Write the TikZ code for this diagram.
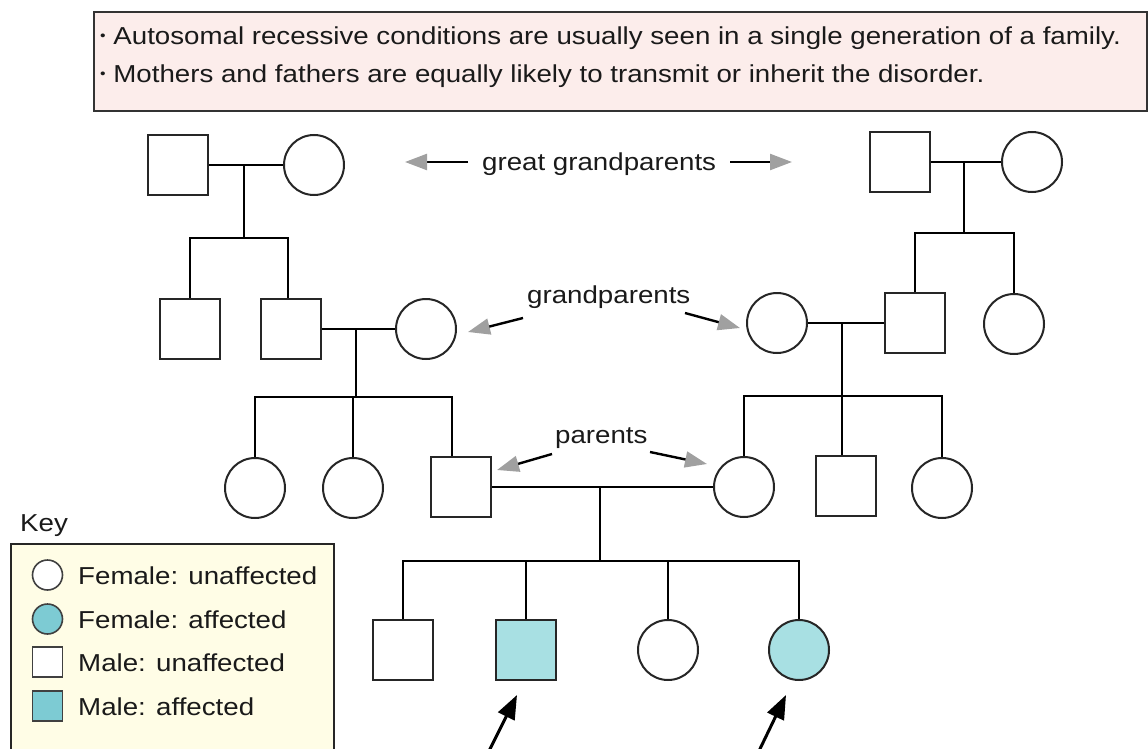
\documentclass[tikz,border=0pt]{standalone}
\usepackage{fontspec}
\setmainfont{Liberation Sans}[FakeStretch=1.13]
\usetikzlibrary{arrows.meta}
\definecolor{affc}{HTML}{A8E0E3}
\definecolor{keyaff}{HTML}{7DCBD3}
\definecolor{bannerfill}{HTML}{FCEDEB}
\definecolor{keyfill}{HTML}{FFFDE6}
\definecolor{txt}{HTML}{1A1A1A}
\definecolor{headgray}{HTML}{A0A0A0}
\newcommand{\smallbul}{\raisebox{4.5pt}{\fontsize{14}{14}\selectfont\textbullet}}
\begin{document}
\begin{tikzpicture}[x=1pt,y=-1pt,
  male/.style={draw=black!85, line width=2pt, rectangle, minimum size=60pt, inner sep=0pt, fill=white},
  female/.style={draw=black!85, line width=2pt, circle, minimum size=60pt, inner sep=0pt, fill=white},
  aff/.style={fill=affc},
  keysym/.style={minimum size=30pt, line width=1.6pt, draw=black!75},
  rel/.style={line width=2.6pt, black},
  lbl/.style={font=\fontsize{24.5}{29}\selectfont, text=txt, inner sep=0pt, anchor=base west},
  garrow/.style={line width=2.4pt, -{Triangle[length=22pt,width=16pt,color=headgray]}},
  barrow/.style={line width=3pt, -{Triangle[length=24pt,width=18pt]}}
]
\useasboundingbox (0,0) rectangle (1148,749);

% banner
\node[draw=black!80, line width=2.4pt, fill=bannerfill, anchor=north west, inner sep=0pt,
      minimum width=1053pt, minimum height=99pt] (banner) at (93,11) {};
\node[lbl] (t1) at (100,45) {\smallbul\ Autosomal recessive conditions are usually seen in a single generation of a family.};
\node[lbl] (t2) at (100,83) {\smallbul\ Mothers and fathers are equally likely to transmit or inherit the disorder.};

% great grandparents, left
\node[male] (m1) at (178,165) {};
\node[female] (f1) at (314,165) {};
\draw[rel] (m1) -- (f1);
\coordinate (c1) at (244,165);
\coordinate (s1) at (244,238);
\draw[rel] (c1) -- (s1);

% grandparents row, left
\node[male] (m2) at (190,329) {};
\node[male] (m3) at (291,329) {};
\node[female] (f2) at (426,329) {};
\draw[rel] (m2.north) |- (s1) -| ([xshift=-3pt]m3.north);
\draw[rel] (m3) -- (f2);
\coordinate (c2) at (356,329);
\coordinate (s2) at (356,397);
\draw[rel] (c2) -- (s2);

% parents row, left
\node[female] (f3) at (255,488) {};
\node[female] (f4) at (353,488) {};
\node[male] (m4) at (461,487) {};
\draw[rel] (f3.north) |- ([xshift=-9pt]m4.north |- s2) -- ([xshift=-9pt]m4.north);
\draw[rel] (f4.north) -- (f4.north |- s2);

% great grandparents, right
\node[male] (m5) at (900,162) {};
\node[female] (f5) at (1032,162) {};
\draw[rel] (m5) -- (f5);
\coordinate (c4) at (964,162);
\coordinate (s4) at (964,233);
\draw[rel] (c4) -- (s4);

% grandparents row, right
\node[male] (m6) at (915,323) {};
\node[female] (f7) at (1014,324) {};
\node[female] (f8) at (777,323) {};
\draw[rel] (m6.north) |- (s4) -| (f7.north);
\draw[rel] (f8) -- (m6);
\coordinate (c5) at (842,323);
\coordinate (s5) at (842,396);
\draw[rel] (c5) -- (s5);

% parents row, right
\node[female] (f6) at (744,487) {};
\node[male] (m7) at (846,486) {};
\node[female] (f9) at (942,488) {};
\draw[rel] (f6.north) |- (s5) -| (f9.north);
\draw[rel] (s5) -- (s5 |- m7.north);

% parents couple and children
\draw[rel] (m4) -- (f6);
\coordinate (c3) at (600,487);
\coordinate (s3) at (600,561);
\draw[rel] (c3) -- (s3);
\node[male] (ch1) at (403,650) {};
\node[male, aff] (ch2) at (526,650) {};
\node[female] (ch3) at (668,650) {};
\node[female, aff] (ch4) at (799,650) {};
\draw[rel] (ch1.north) |- (s3) -| (ch4.north);
\draw[rel] (ch2.north) -- (ch2.north |- s3);
\draw[rel] (ch3.north) -- (ch3.north |- s3);

% labels and grey arrows
\node[lbl] (ggp) at (482,170) {great grandparents};
\node[lbl] (gp) at (527,303) {grandparents};
\node[lbl] (par) at (555,443) {parents};
\coordinate (a1s) at (468,162); \coordinate (a1e) at (405,162);
\coordinate (a2s) at (730,162); \coordinate (a2e) at (792,162);
\coordinate (a3s) at (523,318); \coordinate (a3e) at (468,332);
\coordinate (a4s) at (685,313); \coordinate (a4e) at (740,328);
\coordinate (a5s) at (552,454); \coordinate (a5e) at (497,470);
\coordinate (a6s) at (650,452); \coordinate (a6e) at (707,464);
\draw[garrow] (a1s) -- (a1e);
\draw[garrow] (a2s) -- (a2e);
\draw[garrow] (a3s) -- (a3e);
\draw[garrow] (a4s) -- (a4e);
\draw[garrow] (a5s) -- (a5e);
\draw[garrow] (a6s) -- (a6e);

% black arrows at bottom
\coordinate (b1s) at (488,753); \coordinate (b1e) at (517,695);
\coordinate (b2s) at (758,753); \coordinate (b2e) at (786,695);
\draw[barrow] (b1s) -- (b1e);
\draw[barrow] (b2s) -- (b2e);

% key
\node[lbl] (keylbl) at (20,531) {Key};
\node[draw=black!85, line width=2.2pt, fill=keyfill, anchor=north west, inner sep=0pt,
      minimum width=323pt, minimum height=215pt] (keybox) at (10,543) {};
\node[female, keysym] (k1) at (47.5,575) {};
\node[female, keysym, fill=keyaff] (k2) at (47.5,619) {};
\node[male, keysym] (k3) at (47.5,662) {};
\node[male, keysym, fill=keyaff] (k4) at (47.5,706) {};
\node[lbl] (kt1) at (78,584) {Female: unaffected};
\node[lbl] (kt2) at (78,628) {Female: affected};
\node[lbl] (kt3) at (78,671) {Male: unaffected};
\node[lbl] (kt4) at (78,715) {Male: affected};
\end{tikzpicture}
\end{document}
